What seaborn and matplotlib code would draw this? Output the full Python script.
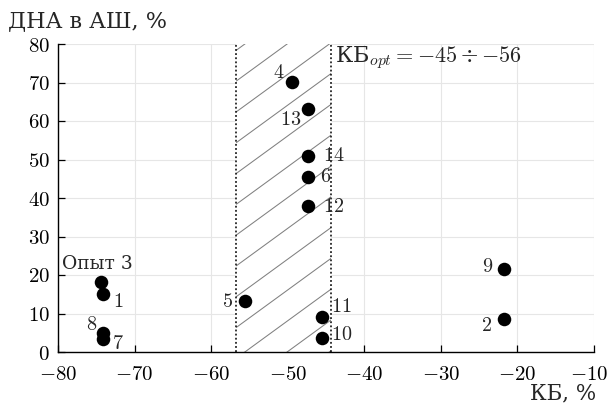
import numpy as np
import pandas as pd
import matplotlib
matplotlib.use("Agg")
import matplotlib.pyplot as plt
import matplotlib.transforms as mtransforms
import seaborn as sns
from matplotlib.patches import Rectangle
from matplotlib.ticker import FuncFormatter

# ---- data ----
labels = ["4", "13", "14", "6", "12", "5", "11", "10", "Опыт 3", "1", "8", "7", "9", "2"]
kb = [-49.4, -47.4, -47.4, -47.4, -47.4, -55.6, -45.5, -45.5, -74.4, -74.1, -74.1, -74.1, -21.8, -21.8]
dna = [70.1, 63.1, 51.0, 45.5, 37.9, 13.2, 9.1, 3.6, 18.2, 15.0, 5.0, 3.5, 21.5, 8.6]
opt_bounds = [-56.7, -44.3]
x_ticks = [-80, -70, -60, -50, -40, -30, -20, -10]
y_ticks = [0, 10, 20, 30, 40, 50, 60, 70, 80]

# label offsets in pixels (style)
offsets = [(-14, 10), (-17, -10), (26, 0), (18, 0), (26, 0), (-17, 0), (19, 10),
           (19, 4), (-4, 18), (15, -7), (-12, 8), (15, -5), (-16, 3), (-17, -7)]

sns.set_theme(style="white")
plt.rcParams["font.family"] = ["DejaVu Serif"]
plt.rcParams["mathtext.fontset"] = "cm"

fig = plt.figure(figsize=(6.11, 4.07), dpi=100)
ax = fig.add_axes([58 / 611, 1 - 352 / 407, (594 - 58) / 611, (352 - 44) / 407])

df = pd.DataFrame({"kb": kb, "dna": dna, "label": labels})

ax.set_xlim(-80, -10)
ax.set_ylim(0, 80)

# grid
for xt in x_ticks:
    ax.axvline(xt, color="#e6e6e6", lw=0.8, zorder=0)
for yt in y_ticks:
    ax.axhline(yt, color="#e6e6e6", lw=0.8, zorder=0)

# hatch region
x0, x1 = opt_bounds
rect = Rectangle((x0, 0), x1 - x0, 80, facecolor="white", edgecolor="none", zorder=1)
ax.add_patch(rect)
slope = 1.45
spacing = 8.0
start = 70.4
cs = np.arange(start - spacing * 20, start + spacing * 3, spacing)
xs = np.array([x0, x1])
for c in cs:
    ln, = ax.plot(xs, c + slope * (xs - x0), color="#808080", lw=0.75, zorder=2)
    ln.set_clip_path(rect)
for xb in opt_bounds:
    ax.axvline(xb, color="black", lw=1.1, ls=(0, (1.2, 1.5)), zorder=3)

sns.scatterplot(data=df, x="kb", y="dna", ax=ax, color="black", s=95,
                edgecolor="black", linewidth=0, zorder=5, legend=False)

for lab, x, y, off in zip(labels, kb, dna, offsets):
    txt = lab if not lab.isdigit() else f"${lab}$"
    ax.annotate(txt, (x, y), xytext=off, textcoords="offset pixels",
                ha="center", va="center", fontsize=14.5 if lab.isdigit() else 13.5,
                zorder=6)

ax.text(x1 + 0.5, 76.6, r"КБ$_{opt} = {-}45 \div {-}56$", ha="left", va="center",
        fontsize=16, zorder=6)

ax.set_xticks(x_ticks)
ax.set_yticks(y_ticks)
fmt = FuncFormatter(lambda v, p: f"${int(v)}$")
ax.xaxis.set_major_formatter(fmt)
ax.yaxis.set_major_formatter(fmt)
ax.tick_params(direction="in", length=5, width=0.9, colors="black",
               labelsize=15, left=True, bottom=True)
ax.tick_params(axis="x", pad=9)
ax.tick_params(axis="y", pad=6)
for s in ["top", "right"]:
    ax.spines[s].set_visible(False)
for s in ["left", "bottom"]:
    ax.spines[s].set_color("black")
    ax.spines[s].set_linewidth(1.0)
ax.set_xlabel("")
ax.set_ylabel("")

# nudge last x tick label to stay inside the canvas
last = ax.get_xticklabels()[-1]
last.set_transform(last.get_transform() +
                   mtransforms.ScaledTranslation(-5 / 100, 0, fig.dpi_scale_trans))

fig.text(8 / 611, 1 - 21 / 407, "ДНА в АШ, %", ha="left", va="center", fontsize=16)
fig.text(596 / 611, 1 - 393 / 407, "КБ, %", ha="right", va="center", fontsize=15.5)

fig.savefig("out.png", dpi=100)
